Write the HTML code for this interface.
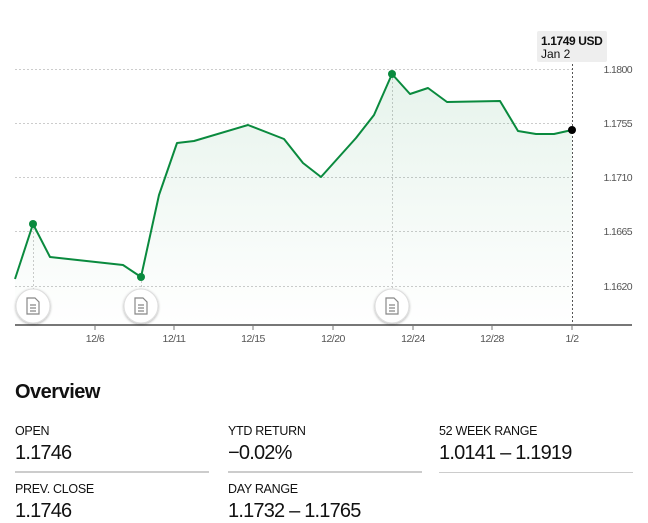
<!DOCTYPE html>
<html><head><style>
body{margin:0;width:648px;height:522px;background:#fff;font-family:"Liberation Sans",sans-serif;position:relative;overflow:hidden}
.t{position:absolute;white-space:nowrap;color:#111}
.lab{font-size:12.5px;letter-spacing:-0.3px}
.val{font-size:20px;letter-spacing:-0.8px}
.sep{position:absolute;height:2px;background:#ccc}
</style></head><body>
<svg width="648" height="370" style="position:absolute;left:0;top:0">
<defs><linearGradient id="g" x1="0" y1="0" x2="0" y2="1"><stop offset="0" stop-color="#0a8a3e" stop-opacity="0.1"/><stop offset="1" stop-color="#0a8a3e" stop-opacity="0"/></linearGradient>
<filter id="sh" x="-30%" y="-30%" width="160%" height="160%"><feDropShadow dx="0" dy="1" stdDeviation="1.2" flood-color="#000" flood-opacity="0.3"/></filter></defs>
<g stroke="#ccc" stroke-dasharray="2,2" stroke-width="1">
<line x1="15" x2="572" y1="69.5" y2="69.5"/><line x1="15" x2="572" y1="123.5" y2="123.5"/><line x1="15" x2="572" y1="177.5" y2="177.5"/><line x1="15" x2="572" y1="231.5" y2="231.5"/><line x1="15" x2="572" y1="286.5" y2="286.5"/>
<line x1="33.5" x2="33.5" y1="224" y2="300"/><line x1="141.5" x2="141.5" y1="277" y2="300"/><line x1="392.5" x2="392.5" y1="74" y2="300"/>
</g>
<line x1="572.5" x2="572.5" y1="60" y2="325" stroke="#555" stroke-dasharray="2,2"/>
<polygon fill="url(#g)" points="15,279 33,224 50,257 123,265 141,277 159,195 177,143 194,141 248,125 284,139 303,163 321,177 356,138 374,115 392,74 410,94 428,88 447,102 500,101 518,131 536,134 554,134 572,130 572,325 15,325"/>
<polyline fill="none" stroke="#0a8a3e" stroke-width="2" stroke-linejoin="round" points="15,279 33,224 50,257 123,265 141,277 159,195 177,143 194,141 248,125 284,139 303,163 321,177 356,138 374,115 392,74 410,94 428,88 447,102 500,101 518,131 536,134 554,134 572,130"/>
<circle cx="33" cy="224" r="4" fill="#0a8a3e"/><circle cx="141" cy="277" r="4" fill="#0a8a3e"/><circle cx="392" cy="74" r="4" fill="#0a8a3e"/><circle cx="572" cy="130" r="4" fill="#000"/>
<line x1="15" x2="632" y1="325" y2="325" stroke="#777" stroke-width="2"/>
<g stroke="#777"><line x1="95" x2="95" y1="325" y2="330"/><line x1="174" x2="174" y1="325" y2="330"/><line x1="253" x2="253" y1="325" y2="330"/><line x1="333" x2="333" y1="325" y2="330"/><line x1="413" x2="413" y1="325" y2="330"/><line x1="492" x2="492" y1="325" y2="330"/><line x1="572" x2="572" y1="325" y2="330"/></g>
<g font-size="10.5" fill="#555" text-anchor="middle" letter-spacing="-0.5"><text x="95" y="342">12/6</text><text x="174" y="342">12/11</text><text x="253" y="342">12/15</text><text x="333" y="342">12/20</text><text x="413" y="342">12/24</text><text x="492" y="342">12/28</text><text x="572" y="342">1/2</text></g>
<g font-size="10.5" fill="#555" text-anchor="end" letter-spacing="-0.6"><text x="632" y="73">1.1800</text><text x="632" y="127">1.1755</text><text x="632" y="181">1.1710</text><text x="632" y="235">1.1665</text><text x="632" y="290">1.1620</text></g>
<g filter="url(#sh)">
<circle cx="33" cy="306" r="17" fill="#fff" stroke="#ddd" stroke-width="1"/><circle cx="141" cy="306" r="17" fill="#fff" stroke="#ddd" stroke-width="1"/><circle cx="392" cy="306" r="17" fill="#fff" stroke="#ddd" stroke-width="1"/></g>
<g fill="none" stroke="#888" stroke-width="1.2">
<path d="M27,298h8l4,4v12h-12z M30,305h6 M30,308h6 M30,311h6"/>
<path d="M135,298h8l4,4v12h-12z M138,305h6 M138,308h6 M138,311h6"/>
<path d="M386,298h8l4,4v12h-12z M389,305h6 M389,308h6 M389,311h6"/>
</g>
<rect x="537" y="31" width="70" height="31" fill="#eee" rx="2"/>
<text x="541" y="45" font-size="12" font-weight="bold" fill="#111" letter-spacing="-0.4">1.1749 USD</text>
<text x="541" y="58" font-size="12" fill="#111">Jan 2</text>
</svg>
<div class="t" style="left:15px;top:381px;font-size:20px;font-weight:bold;letter-spacing:-0.5px">Overview</div>
<div class="t lab" style="left:15px;top:424px">OPEN</div>
<div class="t val" style="left:15px;top:442px">1.1746</div>
<div class="t lab" style="left:228px;top:424px">YTD RETURN</div>
<div class="t val" style="left:228px;top:442px">−0.02%</div>
<div class="t lab" style="left:439px;top:424px">52 WEEK RANGE</div>
<div class="t val" style="left:439px;top:442px">1.0141 – 1.1919</div>
<div class="sep" style="left:15px;top:471px;width:194px"></div>
<div class="sep" style="left:228px;top:471px;width:194px"></div>
<div class="sep" style="left:439px;top:472px;width:194px;height:1px"></div>
<div class="t lab" style="left:15px;top:482px">PREV. CLOSE</div>
<div class="t val" style="left:15px;top:500px">1.1746</div>
<div class="t lab" style="left:228px;top:482px">DAY RANGE</div>
<div class="t val" style="left:228px;top:500px">1.1732 – 1.1765</div>
</body></html>
